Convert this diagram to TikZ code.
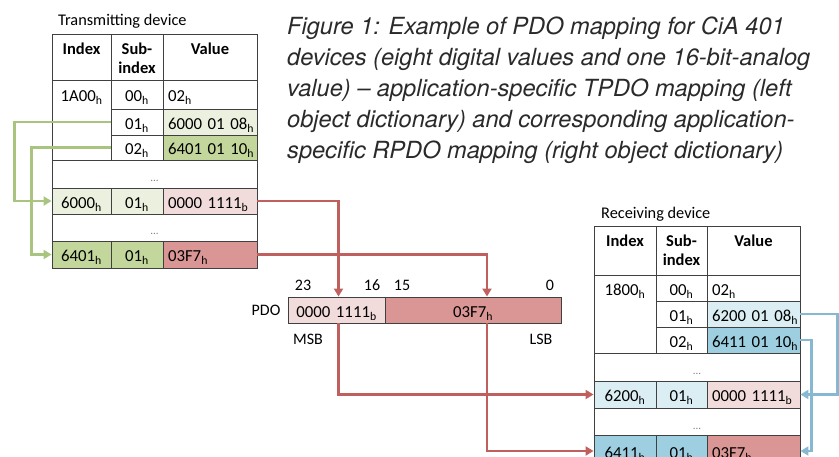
\documentclass[tikz,border=0pt]{standalone}
\usepackage{fontspec}
\setmainfont{Carlito}
\newfontfamily\capfont{TeX Gyre Heros}
\usetikzlibrary{arrows.meta}

\definecolor{grnL}{HTML}{EBF1DE}
\definecolor{grnD}{HTML}{C3D69B}
\definecolor{redL}{HTML}{F2DCDB}
\definecolor{redD}{HTML}{D99694}
\definecolor{bluL}{HTML}{DBEEF4}
\definecolor{bluD}{HTML}{9DCFE0}
\definecolor{grnW}{HTML}{A9C47F}
\definecolor{redW}{HTML}{C0605E}
\definecolor{bluW}{HTML}{86B8D2}
\definecolor{gridc}{HTML}{404040}
\definecolor{captc}{HTML}{2A2A2A}

% \odcell[options]{name}{x1}{y1}{x2}{y2}{text}
\newcommand\odcell[7][]{%
  \pgfmathsetmacro\odW{#5-#3}\pgfmathsetmacro\odH{#6-#4}\pgfmathsetmacro\odT{#5-#3-10}%
  \node[cellbase,minimum width=\odW pt,minimum height=\odH pt,text width=\odT pt,#1]
    (#2) at ({(#3+#5)/2},{(#4+#6)/2}) {\mbox{#7}};}

\newcommand\hx{\textsubscript{h}}
\newcommand\bx{\textsubscript{b}}

\tikzset{
  cellbase/.style={draw=gridc, line width=0.9pt, inner xsep=5pt, inner ysep=0pt,
    text height=15pt, text depth=0pt,
    align=center, font=\fontsize{16.8}{18}\selectfont},
  vleft/.style={align=left},
  dotrow/.style={font=\fontsize{11}{13}\selectfont, text=gray},
  hdtext/.style={font=\bfseries\fontsize{16.5}{19}\selectfont, align=center, anchor=north, inner sep=0pt},
  devlabel/.style={font=\fontsize{16.3}{18}\selectfont, anchor=west, inner sep=0pt},
  bitlabel/.style={font=\fontsize{16}{18}\selectfont, inner sep=0pt},
  capline/.style={font=\capfont\itshape\fontsize{23.6}{30}\selectfont, text=captc, anchor=base west, inner sep=0pt},
  conn/.style={line width=2.4pt, -{Triangle[length=8pt,width=9pt]}},
  garrow/.style={conn, draw=grnW},
  rarrow/.style={conn, draw=redW},
  barrow/.style={conn, draw=bluW},
}

\begin{document}
\begin{tikzpicture}[x=1pt,y=-1pt]
\useasboundingbox (0,0) rectangle (839,457);
\clip (0,0) rectangle (839,457);

% ---------- caption ----------
\node[capline] (cap1) at (287,35)  {Figure 1: Example of PDO mapping for CiA 401};
\node[capline] (cap2) at (287,66)  {devices (eight digital values and one 16-bit-analog};
\node[capline] (cap3) at (287,97)  {value) – application-specific TPDO mapping (left};
\node[capline] (cap4) at (287,128) {object dictionary) and corresponding application-};
\node[capline] (cap5) at (287,159) {specific RPDO mapping (right object dictionary)};

% ---------- transmitting device ----------
\node[devlabel] (tlab) at (58,21) {Transmitting device};

\odcell{tHI}{52}{34}{111}{80}{}
\odcell{tHS}{111}{34}{163}{80}{}
\odcell{tHV}{163}{34}{257}{80}{}
\node[hdtext] (tHIt) at ([yshift=-9pt]tHI.north) {Index};
\node[hdtext] (tHSt) at ([yshift=-9pt]tHS.north) {Sub-\\index};
\node[hdtext] (tHVt) at ([yshift=-9pt]tHV.north) {Value};

\odcell{tIdx}{52}{80}{111}{160}{}
\odcell{t00s}{111}{80}{163}{109}{00\hx}
\odcell[vleft]{t00v}{163}{80}{257}{109}{02\hx}
\node[cellbase, draw=none, minimum width=0pt, text width=] (tIdxT) at (tIdx.center |- t00s.center) {1A00\hx};
\odcell{t01s}{111}{109}{163}{135}{01\hx}
\odcell[vleft, fill=grnL]{t01v}{163}{109}{257}{135}{6000 01 08\hx}
\odcell{t02s}{111}{135}{163}{160}{02\hx}
\odcell[vleft, fill=grnD]{t02v}{163}{135}{257}{160}{6401 01 10\hx}
\odcell[dotrow]{tD1}{52}{160}{257}{188}{...}
\odcell[fill=grnL]{t6000i}{52}{188}{111}{214}{6000\hx}
\odcell[fill=grnL]{t6000s}{111}{188}{163}{214}{01\hx}
\odcell[vleft, fill=redL]{t6000v}{163}{188}{257}{214}{0000 1111\bx}
\odcell[dotrow]{tD2}{52}{214}{257}{241}{...}
\odcell[fill=grnD]{t6401i}{52}{241}{111}{268}{6401\hx}
\odcell[fill=grnD]{t6401s}{111}{241}{163}{268}{01\hx}
\odcell[vleft, fill=redD]{t6401v}{163}{241}{257}{268}{03F7\hx}

% ---------- PDO ----------
\odcell[fill=redL]{pdoA}{288}{297}{385}{323}{0000 1111\bx}
\odcell[fill=redD]{pdoB}{385}{297}{561}{323}{03F7\hx}
\node[bitlabel, anchor=east] (pdoL) at ([xshift=-7pt]pdoA.west) {PDO};
\node[bitlabel] (b23) at (303,285) {23};
\node[bitlabel] (b16) at (372,285) {16};
\node[bitlabel] (b15) at (402,285) {15};
\node[bitlabel] (b0)  at (550,285) {0};
\node[bitlabel] (msb) at (308,339) {MSB};
\node[bitlabel] (lsb) at (541,339) {LSB};

% ---------- receiving device ----------
\node[devlabel] (rlab) at (601,214) {Receiving device};

\odcell{rHI}{594}{226}{656}{275}{}
\odcell{rHS}{656}{226}{707}{275}{}
\odcell{rHV}{707}{226}{800}{275}{}
\node[hdtext] (rHIt) at ([yshift=-9pt]rHI.north) {Index};
\node[hdtext] (rHSt) at ([yshift=-9pt]rHS.north) {Sub-\\index};
\node[hdtext] (rHVt) at ([yshift=-9pt]rHV.north) {Value};

\odcell{rIdx}{594}{275}{656}{353}{}
\odcell{r00s}{656}{275}{707}{301}{00\hx}
\odcell[vleft]{r00v}{707}{275}{800}{301}{02\hx}
\node[cellbase, draw=none, minimum width=0pt, text width=] (rIdxT) at (rIdx.center |- r00s.center) {1800\hx};
\odcell{r01s}{656}{301}{707}{327}{01\hx}
\odcell[vleft, fill=bluL]{r01v}{707}{301}{800}{327}{6200 01 08\hx}
\odcell{r02s}{656}{327}{707}{353}{02\hx}
\odcell[vleft, fill=bluD]{r02v}{707}{327}{800}{353}{6411 01 10\hx}
\odcell[dotrow]{rD1}{594}{353}{800}{381}{...}
\odcell[fill=bluL]{r6200i}{594}{381}{656}{408}{6200\hx}
\odcell[fill=bluL]{r6200s}{656}{381}{707}{408}{01\hx}
\odcell[vleft, fill=redL]{r6200v}{707}{381}{800}{408}{0000 1111\bx}
\odcell[dotrow]{rD2}{594}{408}{800}{435}{...}
\odcell[fill=bluD]{r6411i}{594}{435}{656}{467}{6411\hx}
\odcell[fill=bluD]{r6411s}{656}{435}{707}{467}{01\hx}
\odcell[vleft, fill=redD]{r6411v}{707}{435}{800}{467}{03F7\hx}

% ---------- mapping connectors ----------
% TPDO mapping entries point at their objects
\draw[garrow] (t01s.west) -- ++(-96,0) |- (t6000i.west);
\draw[garrow] (t02s.west) -- ++(-79,0) |- (t6401i.west);
% object values into the PDO
\draw[rarrow] (t6000v.east) -| ([xshift=2pt]pdoA.north);
\draw[rarrow] (t6401v.east) -| ([xshift=14pt]pdoB.north);
% PDO into the receiving objects
\draw[rarrow] ([xshift=2pt]pdoA.south) |- (r6200i.west);
\draw[rarrow] ([xshift=14pt]pdoB.south) |- (r6411i.west);
% RPDO mapping entries point at their objects
\draw[barrow] (r01v.east) -- ++(37,0) |- (r6200v.east);
\draw[barrow] (r02v.east) -- ++(11,0) |- (r6411v.east);
\end{tikzpicture}
\end{document}
